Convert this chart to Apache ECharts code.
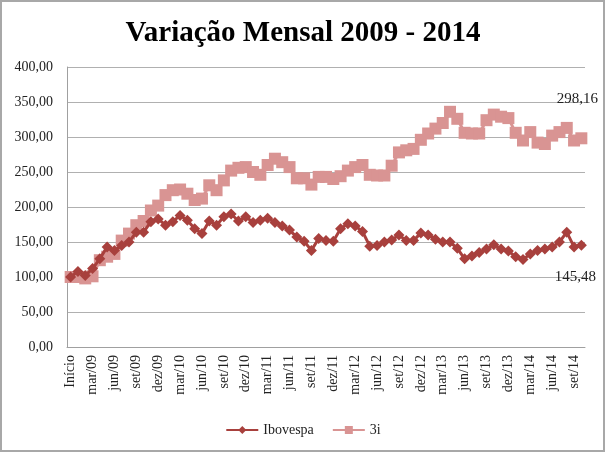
<!DOCTYPE html>
<html><head><meta charset="utf-8">
<script src="https://cdn.jsdelivr.net/npm/echarts@6/dist/echarts.min.js"></script>
<style>html,body{margin:0;padding:0;background:#fff}#c{width:606px;height:456px}</style>
</head><body><div id="c"></div>
<script>
var months = ['jan','fev','mar','abr','mai','jun','jul','ago','set','out','nov','dez'];
var categories = ['Início'];
['09','10','11','12','13','14'].forEach(function(y){ months.forEach(function(m){ categories.push(m + '/' + y); }); });
categories = categories.slice(0, 71);
var ibovespa = [100,108,102,112,126,143,138,145,150,164,164,179,183,174,179,188,181,169,162,180,174,186,190,180,186,178,181,184,178,173,167,157,151,138,155,152,151,169,176,173,165,144,145,150,153,160,152,152,163,160,154,150,150,141,126,130,135,140,146,140,137,129,125,133,138,140,143,150,164,143,145.48];
var tresI = [100,100,98,101,124,129,133,152,162,174,180,195,202,217,224,225,219,210,212,231,224,238,252,256,257,250,246,260,269,264,257,241,241,232,243,243,240,244,252,257,260,246,245,245,259,278,281,283,296,305,312,320,336,326,306,305,305,324,332,329,327,306,295,307,292,290,302,307,313,295,298.16];
var yTicks = [0,50,100,150,200,250,300,350,400];
var fmt = function(v){ return v.toFixed(2).replace('.', ','); };
var chart = echarts.init(document.getElementById('c'));
var serif = 'Liberation Serif';
function lastOnly(arr){
  return function(p){ return p.dataIndex === arr.length-1 ? fmt(arr[p.dataIndex]) : ''; };
}
chart.setOption({
  animation:false,
  title:{text:'Variação Mensal 2009 - 2014', left:'center', top:14, textStyle:{fontFamily:serif, fontWeight:'bold', fontSize:29, color:'#000'}},
  grid:{left:67, right:21, top:67, bottom:109},
  legend:{bottom:14, left:'center', itemWidth:32, itemHeight:10, itemGap:18, textStyle:{fontFamily:serif, fontSize:14, color:'#222'},
    data:['Ibovespa','3i']},
  xAxis:{type:'category', data:categories, boundaryGap:true,
    axisLine:{lineStyle:{color:'#a0a0a0'}}, axisTick:{show:false},
    axisLabel:{rotate:90, interval:2, fontFamily:serif, fontSize:14, color:'#222', margin:8}},
  yAxis:{type:'value', min:0, max:400, interval:50,
    axisLine:{show:true, lineStyle:{color:'#a0a0a0'}}, axisTick:{show:false},
    splitLine:{lineStyle:{color:'#b0b0b0', width:1.2}},
    axisLabel:{formatter:fmt, fontFamily:serif, fontSize:14, color:'#222', margin:14}},
  series:[
    {name:'Ibovespa', type:'line', data:ibovespa, symbol:'diamond', symbolSize:11, showAllSymbol:true,
      itemStyle:{color:'#A8403D'}, lineStyle:{color:'#A8403D', width:3}, z:3,
      label:{show:true, formatter:lastOnly(ibovespa), position:'bottom', offset:[-6,14], fontFamily:serif, fontSize:15, color:'#222'}},
    {name:'3i', type:'line', data:tresI, symbol:'rect', symbolSize:12, showAllSymbol:true,
      itemStyle:{color:'#D99493'}, lineStyle:{color:'#D99493', width:3}, z:2,
      label:{show:true, formatter:lastOnly(tresI), position:'top', offset:[-4,-21], fontFamily:serif, fontSize:15, color:'#222'}}
  ],
  graphic:[{type:'rect', shape:{x:1, y:1, width:603, height:450}, style:{fill:null, stroke:'#a8a8a8', lineWidth:2}, silent:true}]
});
</script></body></html>
